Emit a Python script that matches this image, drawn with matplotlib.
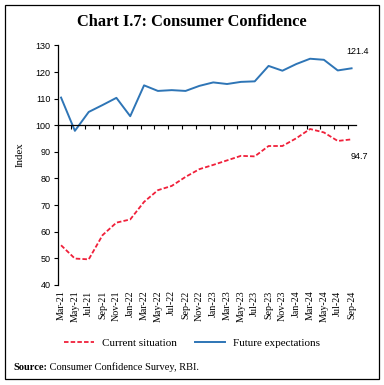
import matplotlib
matplotlib.use("Agg")
from matplotlib import pyplot as plt
from matplotlib.patches import Rectangle
import numpy as np

months = ["Mar-21", "May-21", "Jul-21", "Sep-21", "Nov-21", "Jan-22", "Mar-22", "May-22",
          "Jul-22", "Sep-22", "Nov-22", "Jan-23", "Mar-23", "May-23", "Jul-23", "Sep-23",
          "Nov-23", "Jan-24", "Mar-24", "May-24", "Jul-24", "Sep-24"]
current = [54.9, 49.9, 49.6, 58.7, 63.4, 64.6, 71.2, 75.6, 77.2, 80.6, 83.5,
           85.1, 86.8, 88.5, 88.3, 92.2, 92.2, 95.1, 98.6, 97.3, 94.1, 94.7]
future = [110.4, 97.9, 105.0, 107.6, 110.3, 103.4, 115.0, 112.9, 113.2, 112.9, 114.8,
          116.1, 115.5, 116.3, 116.5, 122.3, 120.5, 123.0, 125.0, 124.6, 120.6, 121.4]

serif = "Liberation Serif"
sans = "Liberation Sans"
red = "#F0203A"
blue = "#2E75B6"

fig = plt.figure(figsize=(3.84, 3.85), dpi=100)
ax = fig.add_axes([0.150, 0.260, 0.776, 0.622])

x = np.arange(len(months))
l1, = ax.plot(x, current, color=red, lw=1.3, dashes=(2.5, 1.2), label="Current situation")
l2, = ax.plot(x, future, color=blue, lw=1.4, label="Future expectations")

ax.set_xlim(-0.24, len(months) - 1 + 0.29)
ax.set_ylim(40, 130)
ax.set_yticks(np.arange(40, 131, 10))
ax.tick_params(axis="y", length=3, width=0.8, pad=2, labelsize=6.5,
               labelfontfamily=sans)

# x axis crosses at 100, labels sit at the bottom
ax.spines["top"].set_visible(False)
ax.spines["right"].set_visible(False)
ax.spines["bottom"].set_position(("data", 100))
ax.spines["bottom"].set_linewidth(0.9)
ax.spines["left"].set_linewidth(0.9)
ax.set_xticks(x - 0.25)
ax.set_xticklabels([])
ax.tick_params(axis="x", length=3, width=0.8, direction="out")

sec = ax.secondary_xaxis("bottom")
sec.set_xticks(x)
sec.set_xticklabels(months, rotation=90, fontfamily=serif, fontsize=7.2)
sec.tick_params(length=0, pad=4)
sec.spines["bottom"].set_visible(False)

ax.text(len(months) - 1 + 0.45, 127.9, "121.4", fontfamily=sans, fontsize=6.5,
        ha="center", va="center")
ax.text(len(months) - 1 + 0.6, 88.1, "94.7", fontfamily=sans, fontsize=6.5,
        ha="center", va="center")

fig.text(20 / 384, 1 - 155 / 385, "Index", rotation=90, fontfamily=serif, fontsize=7.8,
         ha="center", va="center")

fig.text(0.5, 1 - 22 / 385, "Chart I.7: Consumer Confidence", fontfamily=serif,
         fontweight="bold", fontsize=11.8, ha="center", va="center")

fig.legend(handles=[l1, l2], loc="center", bbox_to_anchor=(0.5, 1 - 343 / 385), ncol=2,
           frameon=False, prop={"family": serif, "size": 8}, handlelength=2.7,
           handletextpad=0.7, columnspacing=1.6)

t1 = fig.text(13 / 384, 1 - 367 / 385, "Source:", fontfamily=serif, fontweight="bold",
              fontsize=7.5, ha="left", va="center")
ax.annotate(" Consumer Confidence Survey, RBI.", xy=(1, 0.5), xycoords=t1,
            fontfamily=serif, fontsize=7.5, ha="left", va="center")

fig.patches.append(Rectangle((5 / 384, 1 - 379 / 385), 374 / 384, 374 / 385,
                             transform=fig.transFigure, fill=False, lw=0.9,
                             edgecolor="black"))

fig.savefig("out.png", dpi=100)
